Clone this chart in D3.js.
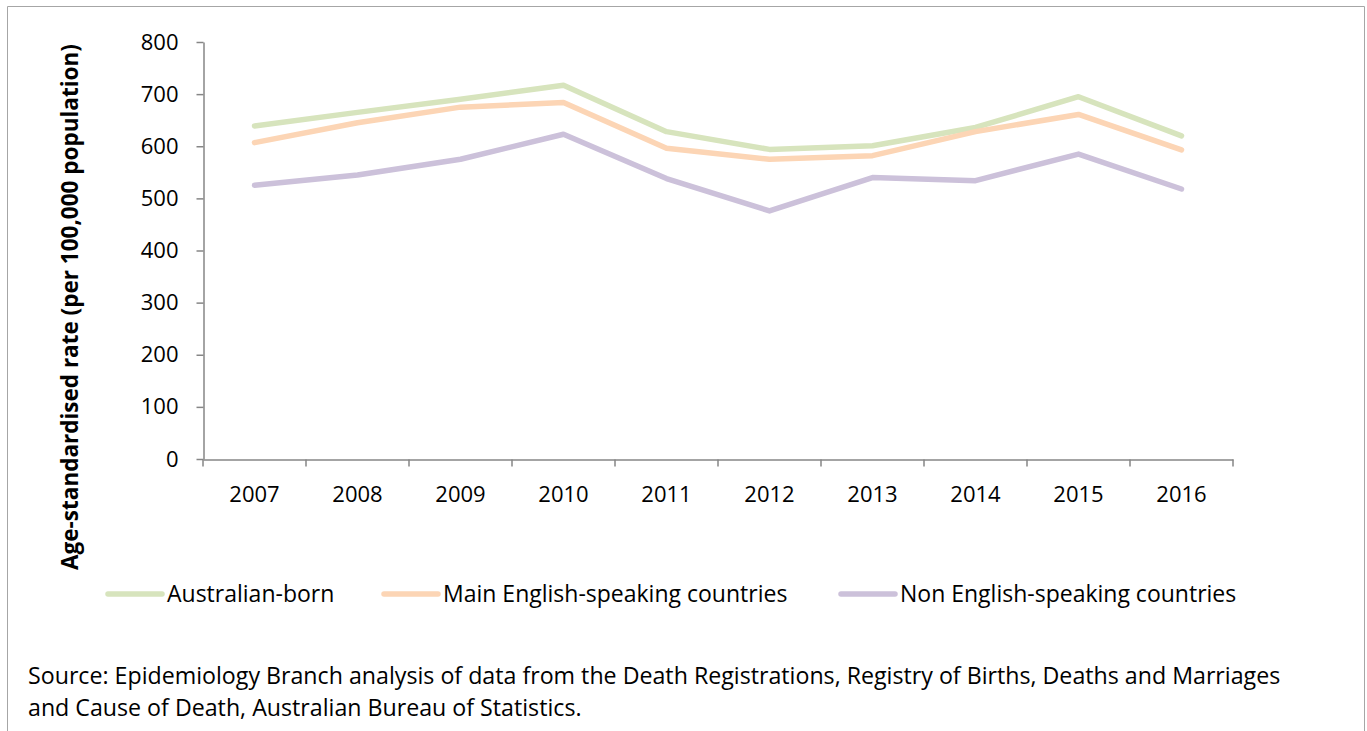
<!DOCTYPE html>
<html>
<head>
<meta charset="utf-8">
<script src="https://cdn.jsdelivr.net/npm/d3@7"></script>
<style>
  body { margin: 0; background: #fff; }
  svg text { font-family: "Open Sans", sans-serif; fill: #000; }
</style>
</head>
<body>
<svg id="chart" width="1367" height="731"></svg>
<script>
// data
var years = ["2007", "2008", "2009", "2010", "2011", "2012", "2013", "2014", "2015", "2016"];
var australianBorn = [639, 665, 690, 717, 628, 594, 601, 636, 695, 620];
var mainEnglish = [607, 645, 675, 684, 596, 575, 582, 628, 661, 593];
var nonEnglish = [525, 545, 575, 623, 538, 476, 540, 534, 585, 518];
var yTicks = [0, 100, 200, 300, 400, 500, 600, 700, 800];

var seriesNames = ["Australian-born", "Main English-speaking countries", "Non English-speaking countries"];
var seriesColors = ["#d7e4bd", "#fcd5b5", "#ccc1da"];
var seriesValues = [australianBorn, mainEnglish, nonEnglish];

var svg = d3.select("#chart");

// outer frame (bottom edge runs off the page)
svg.append("path")
    .attr("d", "M7.5,740 V6.5 H1364.5 V740")
    .attr("fill", "none")
    .attr("stroke", "#a6a6a6")
    .attr("stroke-width", 1);

var plotLeft = 203, plotRight = 1233, plotTop = 42, plotBottom = 459;

var x = d3.scaleBand().domain(years).range([plotLeft, plotRight]).padding(0);
var y = d3.scaleLinear().domain([0, 800]).range([plotBottom, plotTop]);

// y axis
var yAxis = svg.append("g")
    .attr("transform", "translate(" + (plotLeft + 0.5) + ",0)")
    .call(d3.axisLeft(y).tickValues(yTicks).tickSize(7).tickSizeOuter(0).tickPadding(18));
yAxis.select(".domain").attr("stroke", "#868686").attr("stroke-width", 1.5);
yAxis.selectAll(".tick line").attr("stroke", "#868686").attr("stroke-width", 1.5);
yAxis.selectAll("text").attr("font-size", "22px").attr("font-family", "Open Sans, sans-serif").attr("fill", "#000");

// x axis, labels at band centres, ticks on band edges
var xAxis = svg.append("g")
    .attr("transform", "translate(0," + (plotBottom + 0.5) + ")")
    .call(d3.axisBottom(x).tickSize(0).tickSizeOuter(0));
xAxis.select(".domain").attr("stroke", "#868686").attr("stroke-width", 1.5);
xAxis.selectAll("text")
    .attr("y", 42).attr("dy", 0)
    .attr("font-size", "22px").attr("font-family", "Open Sans, sans-serif").attr("fill", "#000");

var edges = years.map(function(d) { return x(d); }).concat([x(years[years.length - 1]) + x.bandwidth()]);
xAxis.selectAll(".edge")
    .data(edges)
    .enter().append("line")
    .attr("class", "edge")
    .attr("x1", function(d) { return d; })
    .attr("x2", function(d) { return d; })
    .attr("y1", 0).attr("y2", 7)
    .attr("stroke", "#868686").attr("stroke-width", 1.5);

// y axis title
svg.append("text")
    .attr("transform", "translate(78,307) rotate(-90)")
    .attr("text-anchor", "middle")
    .attr("font-size", "22.5px")
    .attr("font-weight", "bold")
    .text("Age-standardised rate (per 100,000 population)");

// lines
var line = d3.line()
    .x(function(d, i) { return x(years[i]) + x.bandwidth() / 2; })
    .y(function(d) { return y(d); });

svg.append("g")
    .selectAll("path")
    .data(seriesValues)
    .enter().append("path")
    .attr("d", line)
    .attr("fill", "none")
    .attr("stroke", function(d, i) { return seriesColors[i]; })
    .attr("stroke-width", 5.5)
    .attr("stroke-linecap", "round")
    .attr("stroke-linejoin", "round");

// legend
var legendX = [108, 384, 841];
var legend = svg.append("g")
    .selectAll("g")
    .data(seriesNames)
    .enter().append("g")
    .attr("transform", function(d, i) { return "translate(" + legendX[i] + ",594)"; });
legend.append("line")
    .attr("x1", 0).attr("x2", 54)
    .attr("stroke", function(d, i) { return seriesColors[i]; })
    .attr("stroke-width", 5.5)
    .attr("stroke-linecap", "round");
legend.append("text")
    .attr("x", 59).attr("y", 8)
    .attr("font-size", "23px")
    .text(function(d) { return d; });

// source note
var sourceLines = [
  "Source: Epidemiology Branch analysis of data from the Death Registrations, Registry of Births, Deaths and Marriages",
  "and Cause of Death, Australian Bureau of Statistics."
];
svg.append("g")
    .selectAll("text")
    .data(sourceLines)
    .enter().append("text")
    .attr("x", 28)
    .attr("y", function(d, i) { return 684 + i * 32; })
    .attr("font-size", "23.2px")
    .text(function(d) { return d; });
</script>
</body>
</html>
